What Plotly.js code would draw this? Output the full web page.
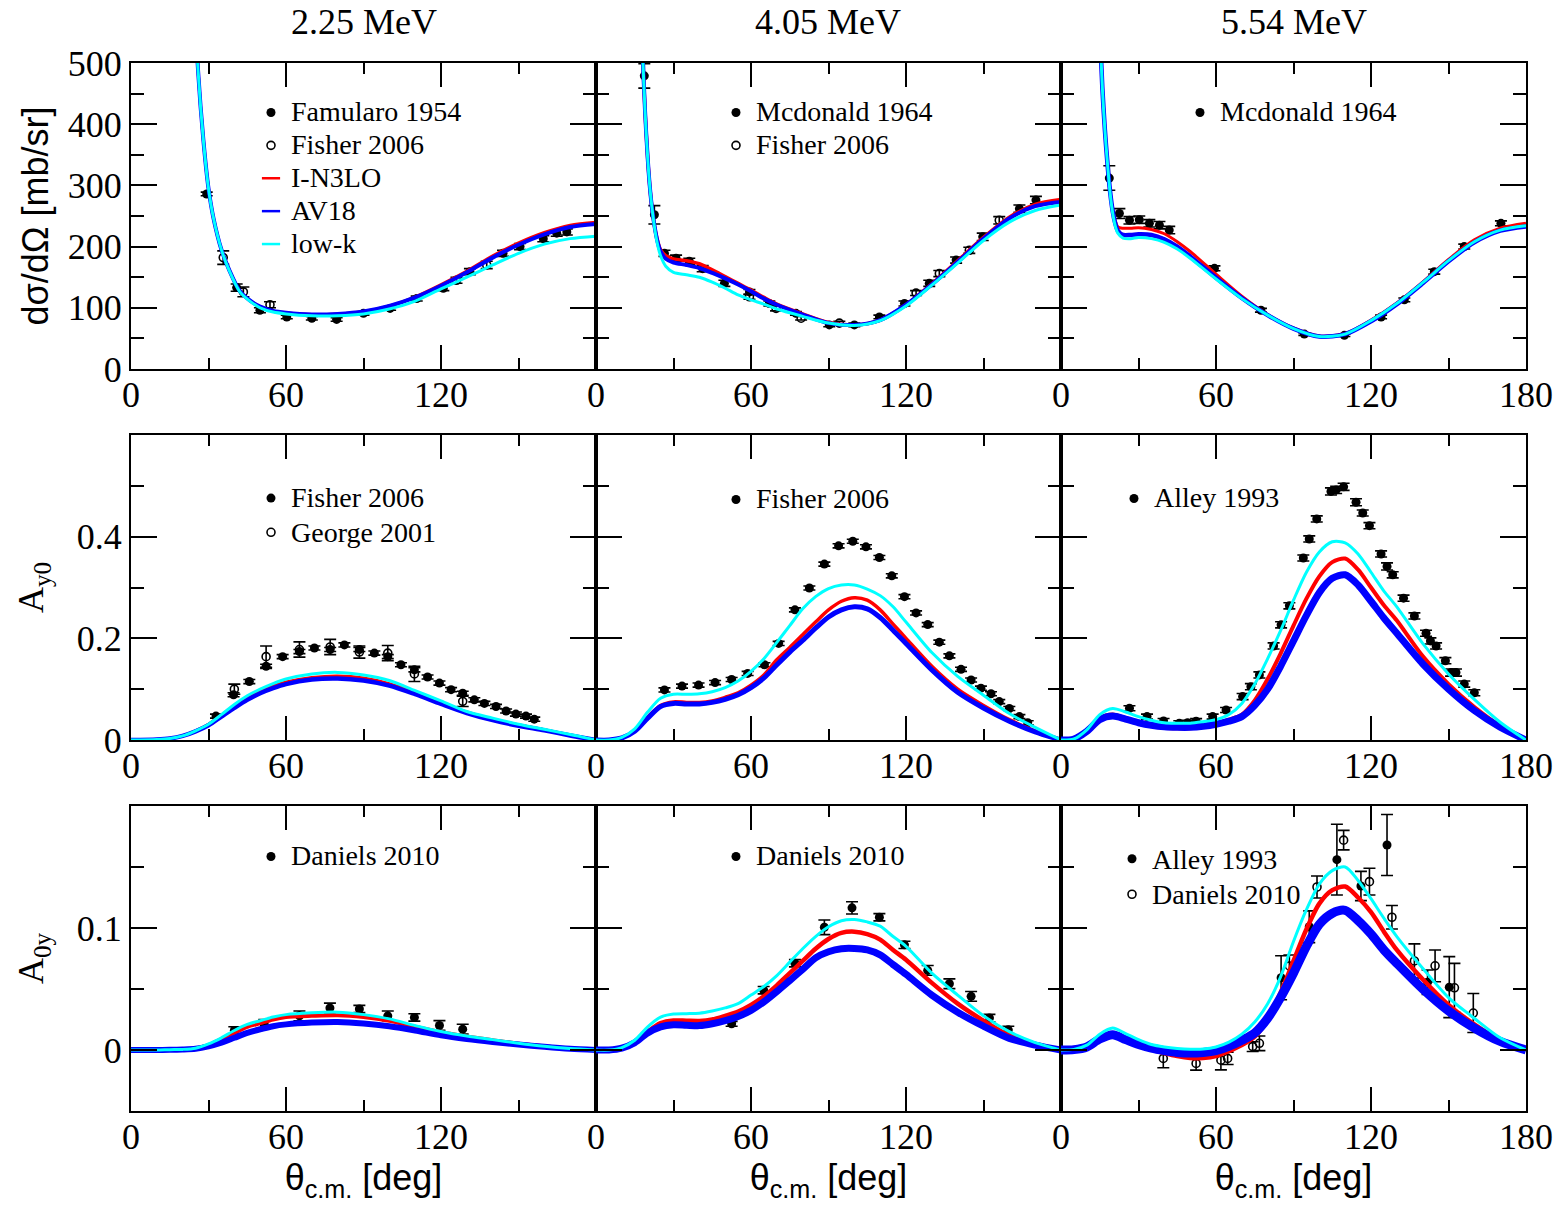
<!DOCTYPE html>
<html><head><meta charset="utf-8">
<script src="https://cdn.plot.ly/plotly-3.0.1.min.js"></script>
<style>html,body{margin:0;padding:0;background:#fff}</style>
</head><body><div id="chart" style="width:1566px;height:1208px"></div>
<script>
// ---------------- column / row labels ----------------
const energies = ['2.25 MeV', '4.05 MeV', '5.54 MeV'];
const yTitles = ['d\u03c3/d\u03a9 [mb/sr]', 'A<sub>y0</sub>', 'A<sub>0y</sub>'];
const xTitle = '\u03b8<sub>c.m.</sub> [deg]';
const xTickValsInner = [0, 60, 120];
const xTickValsLast = [0, 60, 120, 180];
const xMinorVals = [30, 90, 150];
const yRanges = [[0, 500], [0, 0.6], [-0.05, 0.2]];
const yTickVals = [[0, 100, 200, 300, 400, 500], [0, 0.2, 0.4], [0, 0.1]];
const yMinorVals = [[50, 150, 250, 350, 450], [0.1, 0.3, 0.5], [0.05, 0.15]];

// ---------------- theory curves: cross section ----------------
const thS1 = [20, 22, 24, 26, 28, 30, 32, 35, 38, 42, 46, 50, 55, 60, 70, 80, 90, 100, 110, 120, 130, 140, 150, 160, 170, 180];
const redS1 = [1250, 900, 660, 485, 375, 295, 245, 195, 162, 128, 112, 102, 95, 92, 89, 90, 94, 103, 118, 138, 160, 185, 206, 223, 235, 240];
const blueS1 = [1250, 900, 660, 485, 375, 295, 245, 195, 162, 128, 112, 102, 95, 92, 89, 90, 94, 103, 117, 136, 158, 182, 203, 220, 232, 237];
const cyanS1 = [1250, 900, 660, 485, 375, 295, 245, 195, 161, 127, 111, 100, 93, 90, 87, 87, 90, 98, 111, 131, 150, 170, 189, 204, 213, 217];

const thS2 = [15, 17, 18, 19, 20, 21, 22, 23, 24, 25, 27, 30, 35, 40, 45, 50, 55, 60, 65, 70, 80, 90, 100, 110, 120, 130, 140, 150, 160, 170, 180];
const redS2 = [1000, 650, 520, 420, 345, 290, 252, 225, 207, 195, 185, 180, 177, 172, 162, 151, 140, 129, 117, 106, 90, 76, 72, 80, 105, 139, 177, 215, 248, 269, 277];
const blueS2 = [1000, 650, 520, 420, 345, 290, 252, 225, 205, 192, 180, 174, 170, 165, 157, 148, 138, 127, 115, 105, 89, 75, 72, 80, 105, 138, 175, 213, 246, 266, 273];
const cyanS2 = [1000, 650, 520, 420, 345, 290, 252, 222, 200, 185, 168, 158, 154, 150, 142, 132, 121, 113, 106, 98, 86, 75, 71, 79, 103, 137, 173, 210, 240, 259, 268];

const thS3 = [13, 14, 15, 16, 17, 18, 19, 20, 21, 22, 24, 27, 30, 35, 40, 45, 50, 60, 70, 80, 90, 100, 110, 120, 130, 140, 150, 160, 170, 180];
const redS3 = [900, 700, 560, 460, 390, 335, 290, 260, 242, 232, 230, 230, 231, 228, 221, 208, 192, 155, 119, 89, 67, 54, 58, 80, 108, 142, 179, 211, 230, 238];
const blueS3 = [900, 700, 560, 460, 390, 335, 290, 258, 238, 226, 219, 219, 220, 219, 212, 200, 184, 149, 116, 88, 66, 53, 57, 78, 106, 140, 176, 207, 226, 233];
const cyanS3 = [900, 700, 560, 460, 390, 335, 288, 255, 234, 222, 214, 213, 215, 213, 207, 196, 181, 147, 115, 88, 66, 53, 57, 79, 107, 141, 177, 208, 227, 234];

// ---------------- theory curves: A_y0 ----------------
const thA1 = [0, 10, 15, 20, 25, 30, 35, 40, 45, 50, 55, 60, 70, 80, 90, 100, 110, 120, 130, 140, 150, 160, 170, 180];
const redA1 = [0, 0.001, 0.003, 0.008, 0.018, 0.031, 0.049, 0.067, 0.083, 0.096, 0.106, 0.114, 0.123, 0.126, 0.122, 0.111, 0.094, 0.074, 0.055, 0.041, 0.030, 0.020, 0.010, 0];
const blueA1 = [0, 0.001, 0.003, 0.008, 0.017, 0.029, 0.046, 0.063, 0.079, 0.092, 0.102, 0.110, 0.119, 0.121, 0.117, 0.107, 0.090, 0.071, 0.053, 0.039, 0.028, 0.019, 0.009, 0];
const cyanA1 = [0, 0.001, 0.003, 0.008, 0.018, 0.031, 0.050, 0.070, 0.087, 0.100, 0.111, 0.120, 0.130, 0.133, 0.128, 0.117, 0.097, 0.077, 0.056, 0.043, 0.031, 0.021, 0.011, 0];

const thA2 = [0, 5, 10, 15, 20, 25, 30, 35, 40, 45, 50, 55, 60, 65, 70, 75, 80, 85, 90, 95, 100, 105, 110, 115, 120, 130, 140, 150, 160, 170, 180];
const redA2 = [0, 0, 0.004, 0.018, 0.045, 0.068, 0.075, 0.074, 0.074, 0.077, 0.084, 0.093, 0.108, 0.128, 0.158, 0.182, 0.207, 0.232, 0.256, 0.273, 0.280, 0.275, 0.256, 0.228, 0.200, 0.145, 0.100, 0.068, 0.040, 0.018, 0];
const blueA2 = [0, 0, 0.004, 0.017, 0.043, 0.066, 0.072, 0.071, 0.071, 0.074, 0.080, 0.089, 0.103, 0.122, 0.148, 0.173, 0.196, 0.220, 0.242, 0.256, 0.262, 0.258, 0.241, 0.216, 0.190, 0.138, 0.094, 0.063, 0.037, 0.016, 0];
const cyanA2 = [0, 0, 0.005, 0.022, 0.055, 0.082, 0.090, 0.090, 0.091, 0.095, 0.103, 0.116, 0.135, 0.160, 0.192, 0.225, 0.258, 0.282, 0.298, 0.305, 0.305, 0.297, 0.284, 0.262, 0.232, 0.172, 0.125, 0.088, 0.052, 0.025, 0];

const thA3 = [0, 5, 10, 15, 20, 25, 30, 35, 40, 45, 50, 55, 60, 65, 70, 75, 80, 85, 90, 95, 100, 105, 110, 115, 120, 125, 130, 140, 150, 160, 170, 180];
const redA3 = [0, 0.002, 0.018, 0.043, 0.050, 0.043, 0.035, 0.028, 0.024, 0.023, 0.023, 0.026, 0.031, 0.040, 0.050, 0.078, 0.120, 0.170, 0.225, 0.278, 0.322, 0.350, 0.357, 0.335, 0.300, 0.265, 0.235, 0.165, 0.110, 0.065, 0.028, 0];
const blueA3 = [0, 0.002, 0.017, 0.040, 0.047, 0.041, 0.034, 0.029, 0.026, 0.025, 0.025, 0.027, 0.031, 0.037, 0.046, 0.068, 0.100, 0.145, 0.195, 0.245, 0.290, 0.318, 0.325, 0.305, 0.273, 0.240, 0.210, 0.150, 0.100, 0.058, 0.025, 0];
const cyanA3 = [0, 0.002, 0.020, 0.050, 0.062, 0.055, 0.046, 0.039, 0.034, 0.033, 0.033, 0.036, 0.040, 0.050, 0.072, 0.110, 0.160, 0.215, 0.275, 0.330, 0.370, 0.390, 0.388, 0.366, 0.330, 0.293, 0.262, 0.190, 0.130, 0.080, 0.035, 0];

// ---------------- theory curves: A_0y ----------------
const thB1 = [0, 10, 15, 20, 25, 30, 35, 40, 45, 50, 55, 60, 70, 80, 90, 100, 110, 120, 130, 140, 150, 160, 170, 180];
const redB1 = [0, 0, 0.0003, 0.0005, 0.0013, 0.004, 0.009, 0.014, 0.019, 0.022, 0.025, 0.027, 0.028, 0.0285, 0.027, 0.024, 0.019, 0.0145, 0.011, 0.008, 0.0052, 0.003, 0.001, 0];
const blueB1 = [0, 0, 0.0002, 0.0004, 0.001, 0.003, 0.006, 0.010, 0.014, 0.017, 0.0195, 0.021, 0.0225, 0.023, 0.0218, 0.0195, 0.016, 0.012, 0.009, 0.0066, 0.0045, 0.0026, 0.001, 0];
const cyanB1 = [0, 0, 0.0003, 0.0005, 0.0015, 0.005, 0.010, 0.016, 0.021, 0.024, 0.027, 0.029, 0.0305, 0.031, 0.029, 0.0255, 0.020, 0.0152, 0.0115, 0.0085, 0.0055, 0.003, 0.0012, 0];

const thB2 = [0, 5, 10, 15, 20, 25, 30, 35, 40, 45, 50, 55, 60, 65, 70, 75, 80, 85, 90, 95, 100, 105, 110, 115, 120, 130, 140, 150, 160, 170, 180];
const redB2 = [0, 0, 0.0015, 0.006, 0.015, 0.022, 0.0242, 0.024, 0.0238, 0.025, 0.028, 0.0315, 0.037, 0.044, 0.053, 0.063, 0.073, 0.083, 0.091, 0.096, 0.097, 0.095, 0.0905, 0.082, 0.074, 0.055, 0.038, 0.024, 0.012, 0.005, 0];
const blueB2 = [0, 0, 0.0015, 0.006, 0.014, 0.019, 0.0207, 0.0203, 0.020, 0.0215, 0.024, 0.0275, 0.0325, 0.0395, 0.048, 0.057, 0.066, 0.0755, 0.0805, 0.083, 0.0832, 0.082, 0.078, 0.070, 0.062, 0.045, 0.031, 0.0195, 0.0095, 0.004, 0];
const cyanB2 = [0, 0, 0.002, 0.008, 0.019, 0.027, 0.0295, 0.0298, 0.0302, 0.032, 0.0345, 0.038, 0.045, 0.052, 0.061, 0.072, 0.083, 0.093, 0.101, 0.106, 0.107, 0.105, 0.1015, 0.093, 0.085, 0.063, 0.045, 0.028, 0.015, 0.006, 0];

const thB3 = [0, 5, 10, 15, 20, 25, 30, 35, 40, 45, 50, 55, 60, 65, 70, 75, 80, 85, 90, 95, 100, 105, 110, 115, 120, 125, 130, 140, 150, 160, 170, 180];
const redB3 = [0, 0.0004, 0.003, 0.010, 0.0138, 0.009, 0.004, 0.0005, -0.0025, -0.005, -0.0065, -0.0065, -0.005, -0.001, 0.004, 0.011, 0.025, 0.047, 0.073, 0.099, 0.120, 0.131, 0.134, 0.125, 0.113, 0.097, 0.082, 0.058, 0.037, 0.021, 0.008, 0];
const blueB3 = [0, 0.0003, 0.0025, 0.009, 0.0125, 0.0085, 0.0045, 0.0015, -0.0005, -0.002, -0.0025, -0.002, -0.0005, 0.003, 0.008, 0.014, 0.026, 0.043, 0.063, 0.085, 0.103, 0.112, 0.1145, 0.106, 0.095, 0.082, 0.071, 0.050, 0.032, 0.018, 0.007, 0];
const cyanB3 = [0, 0.0005, 0.004, 0.013, 0.018, 0.0135, 0.0085, 0.0045, 0.0025, 0.0013, 0.0007, 0.0008, 0.0025, 0.0065, 0.013, 0.023, 0.038, 0.060, 0.089, 0.115, 0.136, 0.147, 0.150, 0.139, 0.124, 0.108, 0.093, 0.067, 0.043, 0.026, 0.010, 0];

// ---------------- experimental data ----------------
// 2.25 MeV cross section
const famularoTh = [29.3, 40.9, 49.9, 60.3, 70, 79.6, 90, 100.3, 110.6, 120.9, 131.2, 144, 150.6, 159.6, 164.8, 168.7];
const famularoV = [286, 133, 96, 85, 83, 81, 91, 99, 115, 132, 159, 189, 200, 213, 222, 224];
const famularoE = [3, 6, 4, 3, 3, 3, 3, 3, 4, 4, 5, 5, 5, 5, 5, 5];
const fisherS1Th = [35.7, 43.5, 53.8, 126, 137.7];
const fisherS1V = [182, 126, 105, 145, 170];
const fisherS1E = [11, 8, 5, 5, 6];
// 4.05 MeV cross section
const mcdS2Th = [18.7, 22.6, 26.5, 31, 36.1, 41.3, 49.7, 59.4, 67.1, 77.4, 90.3, 100, 109.7, 119.4, 129, 139.4, 149.7, 163.9, 170.3];
const mcdS2V = [479, 252, 189, 181, 176, 164, 140, 126, 107, 91, 72, 72, 85, 107, 140, 178, 216, 262, 276];
const mcdS2E = [20, 15, 5, 5, 5, 5, 5, 4, 4, 3, 3, 3, 3, 4, 5, 5, 6, 6, 6];
const fisherS2Th = [59.4, 69.7, 79.4, 94.2, 123.9, 132.9, 144.5, 156.1];
const fisherS2V = [118, 99, 83, 75, 124, 156, 194, 243];
const fisherS2E = [4, 4, 3, 3, 4, 5, 5, 6];
// 5.54 MeV cross section
const mcdS3Th = [18.7, 22.6, 26.5, 30.3, 34.2, 38.1, 41.9, 59.4, 77.4, 94.2, 109.7, 123.9, 132.9, 144.5, 156.1, 170.3];
const mcdS3V = [312, 254, 243, 244, 238, 235, 227, 164.5, 96, 57, 55, 85, 113, 159, 200, 238];
const mcdS3E = [20, 8, 6, 6, 6, 6, 6, 4, 3, 2, 2, 3, 3, 4, 4, 4];
// 2.25 MeV A_y0
const fisherA1Th = [32.9, 39.7, 45.8, 52.3, 58.7, 65.2, 71, 77.1, 82.6, 88.4, 94.2, 99.4, 104.5, 109.7, 114.8, 119.4, 123.9, 128.4, 132.9, 136.8, 141.3, 145.2, 149, 152.9, 156.1];
const fisherA1V = [0.047, 0.089, 0.115, 0.145, 0.164, 0.174, 0.181, 0.178, 0.187, 0.178, 0.171, 0.164, 0.148, 0.138, 0.124, 0.112, 0.099, 0.092, 0.079, 0.072, 0.066, 0.057, 0.051, 0.047, 0.041];
const fisherA1E = [0.004, 0.004, 0.004, 0.004, 0.004, 0.004, 0.004, 0.004, 0.004, 0.004, 0.004, 0.004, 0.004, 0.004, 0.004, 0.004, 0.004, 0.004, 0.004, 0.004, 0.004, 0.004, 0.004, 0.004, 0.004];
const georgeTh = [40, 52.3, 65.2, 77.1, 88.4, 99.4, 109.7, 128.4];
const georgeV = [0.1, 0.164, 0.178, 0.183, 0.173, 0.171, 0.13, 0.076];
const georgeE = [0.01, 0.021, 0.015, 0.015, 0.012, 0.015, 0.015, 0.01];
// 4.05 MeV A_y0
const fisherA2Th = [26.5, 33.3, 39.7, 46.1, 52.5, 58.7, 65.2, 70.7, 77, 82.6, 88.4, 93.9, 99.4, 104.5, 109.7, 114.5, 119.4, 123.9, 128.4, 132.9, 136.8, 141.3, 145.2, 149, 152.9, 156.1, 160, 163.9, 167.1];
const fisherA2V = [0.0985, 0.106, 0.108, 0.113, 0.119, 0.131, 0.148, 0.19, 0.256, 0.299, 0.346, 0.382, 0.391, 0.38, 0.359, 0.323, 0.282, 0.25, 0.227, 0.1925, 0.1655, 0.139, 0.118, 0.102, 0.091, 0.0755, 0.062, 0.046, 0.034];
const fisherA2E = [0.004, 0.004, 0.004, 0.004, 0.004, 0.004, 0.004, 0.004, 0.004, 0.004, 0.004, 0.004, 0.004, 0.004, 0.004, 0.004, 0.004, 0.004, 0.004, 0.004, 0.004, 0.004, 0.004, 0.004, 0.004, 0.004, 0.004, 0.004, 0.004];
// 5.54 MeV A_y0
const alleyA3Th = [26.5, 33.3, 39.7, 45.8, 49, 52.3, 58.7, 63.9, 70.3, 73.5, 76.8, 82.3, 85.2, 88.4, 93.8, 96.1, 99, 104.5, 106.5, 109.4, 114.2, 116.8, 119.4, 123.9, 126.2, 128.4, 132.6, 136.8, 141.3, 143, 145.2, 148.8, 151, 152.9, 156.1, 160];
const alleyA3V = [0.0624, 0.046, 0.0374, 0.033, 0.034, 0.037, 0.046, 0.059, 0.0854, 0.105, 0.128, 0.185, 0.2266, 0.264, 0.358, 0.3955, 0.435, 0.489, 0.492, 0.498, 0.4677, 0.4466, 0.4217, 0.366, 0.3415, 0.325, 0.279, 0.244, 0.21, 0.195, 0.185, 0.156, 0.1327, 0.1327, 0.11, 0.093];
const alleyA3E = [0.005, 0.005, 0.005, 0.005, 0.005, 0.005, 0.005, 0.005, 0.006, 0.006, 0.006, 0.006, 0.006, 0.006, 0.006, 0.006, 0.006, 0.007, 0.007, 0.007, 0.007, 0.006, 0.006, 0.006, 0.007, 0.006, 0.006, 0.006, 0.006, 0.006, 0.006, 0.006, 0.007, 0.007, 0.006, 0.006];
// 2.25 MeV A_0y
const danielsB1Th = [40, 51.6, 65.2, 77, 88.4, 99.4, 109.7, 119.4, 128.4];
const danielsB1V = [0.016, 0.021, 0.028, 0.0344, 0.0336, 0.028, 0.0267, 0.0201, 0.0171];
const danielsB1E = [0.003, 0.004, 0.004, 0.004, 0.003, 0.004, 0.003, 0.004, 0.004];
// 4.05 MeV A_0y
const danielsB2Th = [39.7, 52.5, 64.9, 77, 88.4, 99.1, 109.7, 119.4, 128.4, 136.8, 145.2, 152.3, 159.6];
const danielsB2V = [0.0215, 0.0215, 0.049, 0.0711, 0.1006, 0.1165, 0.1088, 0.0862, 0.0653, 0.0543, 0.044, 0.0262, 0.0165];
const danielsB2E = [0.002, 0.002, 0.003, 0.003, 0.006, 0.005, 0.003, 0.003, 0.004, 0.004, 0.004, 0.003, 0.003];
// 5.54 MeV A_0y
const alleyB3Th = [85.2, 96.1, 106.8, 116.1, 126.2, 141.9, 150.3];
const alleyB3V = [0.0592, 0.101, 0.156, 0.1344, 0.168, 0.0556, 0.0515];
const alleyB3E = [0.018, 0.013, 0.029, 0.012, 0.025, 0.01, 0.025];
const danielsB3Th = [39.6, 52.3, 61.9, 64.5, 74.2, 76.8, 88.4, 99.1, 109.4, 119.4, 128.1, 136.8, 144.8, 152.3, 159.6];
const danielsB3V = [-0.0069, -0.011, -0.0083, -0.0069, 0.0028, 0.0055, 0.0689, 0.1336, 0.172, 0.138, 0.1088, 0.073, 0.069, 0.051, 0.0303];
const danielsB3E = [0.0076, 0.0055, 0.008, 0.005, 0.004, 0.006, 0.009, 0.009, 0.008, 0.011, 0.0096, 0.014, 0.013, 0.02, 0.016];

// ---------------- assemble panels ----------------
const panels = [
  {th: thS1, red: redS1, blue: blueS1, cyan: cyanS1, sets: [
    {name: 'Famularo 1954', open: false, x: famularoTh, y: famularoV, e: famularoE},
    {name: 'Fisher 2006', open: true, x: fisherS1Th, y: fisherS1V, e: fisherS1E}]},
  {th: thS2, red: redS2, blue: blueS2, cyan: cyanS2, sets: [
    {name: 'Mcdonald 1964', open: false, x: mcdS2Th, y: mcdS2V, e: mcdS2E},
    {name: 'Fisher 2006', open: true, x: fisherS2Th, y: fisherS2V, e: fisherS2E}]},
  {th: thS3, red: redS3, blue: blueS3, cyan: cyanS3, sets: [
    {name: 'Mcdonald 1964', open: false, x: mcdS3Th, y: mcdS3V, e: mcdS3E}]},
  {th: thA1, red: redA1, blue: blueA1, cyan: cyanA1, sets: [
    {name: 'Fisher 2006', open: false, x: fisherA1Th, y: fisherA1V, e: fisherA1E},
    {name: 'George 2001', open: true, x: georgeTh, y: georgeV, e: georgeE}]},
  {th: thA2, red: redA2, blue: blueA2, cyan: cyanA2, sets: [
    {name: 'Fisher 2006', open: false, x: fisherA2Th, y: fisherA2V, e: fisherA2E}]},
  {th: thA3, red: redA3, blue: blueA3, cyan: cyanA3, sets: [
    {name: 'Alley 1993', open: false, x: alleyA3Th, y: alleyA3V, e: alleyA3E}]},
  {th: thB1, red: redB1, blue: blueB1, cyan: cyanB1, sets: [
    {name: 'Daniels 2010', open: false, x: danielsB1Th, y: danielsB1V, e: danielsB1E}]},
  {th: thB2, red: redB2, blue: blueB2, cyan: cyanB2, sets: [
    {name: 'Daniels 2010', open: false, x: danielsB2Th, y: danielsB2V, e: danielsB2E}]},
  {th: thB3, red: redB3, blue: blueB3, cyan: cyanB3, sets: [
    {name: 'Alley 1993', open: false, x: alleyB3Th, y: alleyB3V, e: alleyB3E},
    {name: 'Daniels 2010', open: true, x: danielsB3Th, y: danielsB3V, e: danielsB3E}]}
];

// styles
const FS = '"Liberation Serif", "Times New Roman", serif';
const FA = '"Liberation Sans", Arial, sans-serif';
const W = 1566, H = 1208;
const colL = [131, 596, 1061], colW = 465;
const rowT = [63, 435, 806], rowB = [369, 740, 1111];
const redW = [3, 3.5, 3, 3, 3.5, 4, 4, 4.5, 4.5];
const blueW = [4, 4, 4.5, 4.5, 5, 7, 6, 7, 9];
const cyanW = [3, 3, 3, 3, 3, 3, 3, 3, 3];
const legendPos = [[251, 91], [716, 91], [1180, 91], [251, 476], [716, 478], [1114, 477], [251, 835], [716, 835], [1112, 836]];
const legendLine = [23, 23, 23, 24, 23, 23, 23, 23, 25];   // sets row pitch of each legend
const legendText = 28;

const traces = [];
const layout = {
  width: W, height: H, margin: {l: 0, r: 0, t: 0, b: 0},
  paper_bgcolor: '#fff', plot_bgcolor: '#fff', showlegend: true,
  annotations: [], font: {family: FS, color: '#000'}
};
const big = s => '<span style="font-size:' + legendText + 'px">' + s + '</span>';

panels.forEach((p, i) => {
  const r = Math.floor(i / 3), c = i % 3, n = i + 1;
  const xa = 'x' + (n === 1 ? '' : n), ya = 'y' + (n === 1 ? '' : n);
  const leg = n === 1 ? 'legend' : 'legend' + n;
  p.sets.forEach(s => {
    traces.push({
      type: 'scatter', mode: 'markers', name: big(s.name), x: s.x, y: s.y,
      xaxis: xa, yaxis: ya, legend: leg,
      marker: s.open ? {symbol: 'circle-open', size: 8, color: '#000', line: {color: '#000', width: 1.6}}
                     : {symbol: 'circle', size: 9, color: '#000'},
      error_y: {type: 'data', array: s.e, visible: true, color: '#000', thickness: 1.6, width: 6}
    });
  });
  [['#ff0000', p.red, redW[i]], ['#0000ff', p.blue, blueW[i]], ['#00ffff', p.cyan, cyanW[i]]].forEach(([col, v, w]) => {
    traces.push({type: 'scatter', mode: 'lines', x: p.th, y: v, xaxis: xa, yaxis: ya, showlegend: false,
      line: {color: col, width: w, shape: 'spline', smoothing: 0.8}, hoverinfo: 'skip'});
  });
  if (i === 0) {
    [['I-N3LO', '#ff0000'], ['AV18', '#0000ff'], ['low-k', '#00ffff']].forEach(([nm, col]) => {
      traces.push({type: 'scatter', mode: 'markers', name: big(nm), x: [null], y: [null], xaxis: xa, yaxis: ya, legend: leg,
        marker: {symbol: 'line-ew-open', size: 13, color: col, line: {color: col, width: 2.5}}});
    });
  }
  const axBase = {showline: true, linecolor: '#000', linewidth: 2, mirror: 'ticks', ticks: 'inside',
    tickcolor: '#000', tickwidth: 2, showgrid: false, zeroline: false, fixedrange: true,
    tickfont: {family: FS, size: 36, color: '#000'}};
  const xax = Object.assign({}, axBase, {
    domain: [colL[c] / W, (colL[c] + colW) / W], range: [0, 180], anchor: ya,
    tickmode: 'array', tickvals: c === 2 ? xTickValsLast : xTickValsInner,
    ticklen: 24, ticklabelstandoff: -7,
    minor: {tickmode: 'array', tickvals: xMinorVals, ticks: 'inside', ticklen: 11, tickwidth: 2, tickcolor: '#000'}
  });
  if (r === 2) xax.title = {text: xTitle, font: {family: FA, size: 36, color: '#000'}, standoff: 6};
  layout['xaxis' + (n === 1 ? '' : n)] = xax;
  const yax = Object.assign({}, axBase, {
    domain: [1 - rowB[r] / H, 1 - rowT[r] / H], range: yRanges[r], anchor: xa,
    tickmode: 'array', tickvals: yTickVals[r], showticklabels: c === 0,
    ticklen: 26, minor: {tickmode: 'array', tickvals: yMinorVals[r], ticks: 'inside', ticklen: 13, tickwidth: 2, tickcolor: '#000'}
  });
  if (c === 0) yax.title = {text: yTitles[r], font: {family: r === 0 ? FA : FS, size: 36, color: '#000'}, standoff: r === 0 ? 8 : 22};
  layout['yaxis' + (n === 1 ? '' : n)] = yax;
  layout[leg] = {x: legendPos[i][0] / W, y: 1 - legendPos[i][1] / H, xanchor: 'left', yanchor: 'top',
    bgcolor: 'rgba(0,0,0,0)', borderwidth: 0, font: {family: FS, size: legendLine[i], color: '#000'},
    tracegroupgap: 0, itemclick: false, itemdoubleclick: false};
});

energies.forEach((e, c) => {
  layout.annotations.push({text: e, xref: 'paper', yref: 'paper', x: (colL[c] + colW / 2) / W, y: 1 - 22 / H,
    xanchor: 'center', yanchor: 'middle', showarrow: false, font: {family: FS, size: 36, color: '#000'}});
});

Plotly.newPlot('chart', traces, layout, {displayModeBar: false, staticPlot: true});
</script></body></html>
